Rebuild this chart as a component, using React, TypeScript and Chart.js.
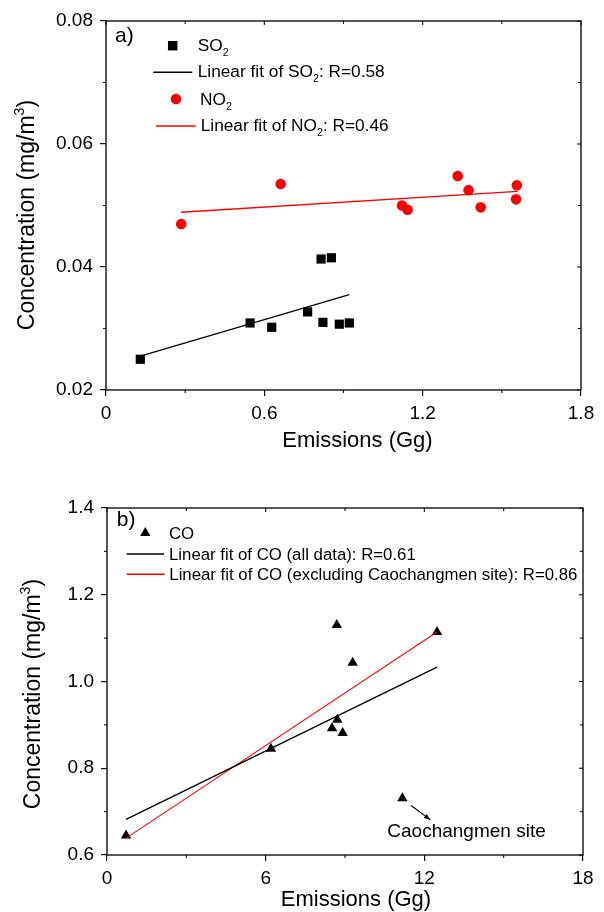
import React, { useEffect, useRef } from "react";
import { Chart, registerables } from "chart.js";

Chart.register(...registerables);

const FONT = "'Liberation Sans', Arial, Helvetica, sans-serif";

// ---------- Panel a) ----------
const so2Emissions = [0.13, 0.546, 0.628, 0.764, 0.815, 0.854, 0.822, 0.884, 0.922];
const so2Conc = [0.025, 0.0309, 0.0302, 0.0327, 0.0413, 0.0415, 0.031, 0.0307, 0.0309];
const so2FitX = [0.13, 0.922];
const so2FitY = [0.0255, 0.0355];
const no2Emissions = [0.285, 0.662, 1.122, 1.143, 1.333, 1.374, 1.42, 1.557, 1.554];
const no2Conc = [0.047, 0.0535, 0.05, 0.0493, 0.0548, 0.0525, 0.0497, 0.0533, 0.051];
const no2FitX = [0.285, 1.56];
const no2FitY = [0.0489, 0.0523];
const xTicksA = [0, 0.6, 1.2, 1.8];
const xTickLabelsA = ["0", "0.6", "1.2", "1.8"];
const xMinorA = [0.3, 0.9, 1.5];
const yTicksA = [0.02, 0.04, 0.06, 0.08];
const yTickLabelsA = ["0.02", "0.04", "0.06", "0.08"];
const yMinorA = [0.03, 0.05, 0.07];

// ---------- Panel b) ----------
const coEmissions = [0.72, 6.2, 8.69, 12.48, 9.29, 8.71, 8.51, 8.91, 11.17];
const coConc = [0.645, 0.845, 1.13, 1.114, 1.043, 0.912, 0.892, 0.881, 0.731];
const coFitAllX = [0.72, 12.48];
const coFitAllY = [0.682, 1.033];
const coFitExclX = [0.72, 12.48];
const coFitExclY = [0.639, 1.114];
const xTicksB = [0, 6, 12, 18];
const xTickLabelsB = ["0", "6", "12", "18"];
const xMinorB = [3, 9, 15];
const yTicksB = [0.6, 0.8, 1.0, 1.2, 1.4];
const yTickLabelsB = ["0.6", "0.8", "1.0", "1.2", "1.4"];
const yMinorB = [0.7, 0.9, 1.1, 1.3];
const outlierLabel = "Caochangmen site";
const outlierLabelPos = [10.6, 0.641];
const arrowFrom = [11.5, 0.714];
const arrowTo = [12.23, 0.681];

type Seg = { t: string; sub?: boolean; sup?: boolean };

function richWidth(ctx: CanvasRenderingContext2D, segs: Seg[], size: number) {
  let w = 0;
  for (const s of segs) {
    const fs = s.sub || s.sup ? size * 0.62 : size;
    ctx.font = `${fs}px ${FONT}`;
    w += ctx.measureText(s.t).width;
  }
  return w;
}

function drawRich(ctx: CanvasRenderingContext2D, x: number, y: number, segs: Seg[], size: number) {
  let cx = x;
  ctx.textBaseline = "alphabetic";
  ctx.textAlign = "left";
  for (const s of segs) {
    const fs = s.sub || s.sup ? size * 0.62 : size;
    ctx.font = `${fs}px ${FONT}`;
    const dy = s.sub ? size * 0.3 : s.sup ? -size * 0.42 : 0;
    ctx.fillText(s.t, cx, y + dy);
    cx += ctx.measureText(s.t).width;
  }
}

function line(ctx: CanvasRenderingContext2D, x1: number, y1: number, x2: number, y2: number) {
  ctx.beginPath();
  ctx.moveTo(x1, y1);
  ctx.lineTo(x2, y2);
  ctx.stroke();
}

type LegendItem =
  | { kind: "rect" | "circle" | "triangle"; color: string; mx: number; my: number; size: number; tx: number; ty: number; segs: Seg[] }
  | { kind: "line"; color: string; x1: number; x2: number; ly: number; tx: number; ty: number; segs: Seg[] };

type Decor = {
  xMinor: number[];
  yMinor: number[];
  xMajor: number[];
  yMajor: number[];
  panel: { text: string; x: number; y: number };
  legend: LegendItem[];
  legendSize: number;
  xTitle: { x: number; y: number };
  yTitle: { x: number; cy: number };
  extra?: (chart: Chart, ctx: CanvasRenderingContext2D) => void;
};

function decorPlugin(d: Decor) {
  return {
    id: "decor",
    afterDraw(chart: Chart) {
      const ctx = chart.ctx;
      const { left, right, top, bottom } = chart.chartArea;
      const xs = chart.scales.x;
      const ys = chart.scales.y;
      ctx.save();
      ctx.strokeStyle = "#111";
      ctx.fillStyle = "#000";
      ctx.lineWidth = 1.4;
      ctx.strokeRect(left, top, right - left, bottom - top);
      ctx.lineWidth = 1.1;
      for (const v of d.xMinor) {
        const p = xs.getPixelForValue(v);
        line(ctx, p, bottom, p, bottom + 3);
        line(ctx, p, top, p, top + 3);
      }
      for (const v of d.xMajor) {
        const p = xs.getPixelForValue(v);
        line(ctx, p, top, p, top + 4);
      }
      for (const v of d.yMinor) {
        const p = ys.getPixelForValue(v);
        line(ctx, left, p, left - 3, p);
        line(ctx, right, p, right - 3, p);
      }
      for (const v of d.yMajor) {
        const p = ys.getPixelForValue(v);
        line(ctx, right, p, right - 4, p);
      }

      // panel label
      ctx.font = `21px ${FONT}`;
      ctx.textAlign = "left";
      ctx.textBaseline = "alphabetic";
      ctx.fillText(d.panel.text, d.panel.x, d.panel.y);

      // legend
      for (const it of d.legend) {
        if (it.kind === "line") {
          ctx.strokeStyle = it.color;
          ctx.lineWidth = 1.4;
          line(ctx, it.x1, it.ly, it.x2, it.ly);
        } else {
          ctx.fillStyle = it.color;
          ctx.beginPath();
          if (it.kind === "rect") {
            ctx.rect(it.mx - it.size / 2, it.my - it.size / 2, it.size, it.size);
          } else if (it.kind === "circle") {
            ctx.arc(it.mx, it.my, it.size / 2, 0, Math.PI * 2);
          } else {
            const r = it.size;
            ctx.moveTo(it.mx, it.my - r);
            ctx.lineTo(it.mx + r * Math.sin((2 * Math.PI) / 3), it.my - r * Math.cos((2 * Math.PI) / 3));
            ctx.lineTo(it.mx + r * Math.sin((4 * Math.PI) / 3), it.my - r * Math.cos((4 * Math.PI) / 3));
            ctx.closePath();
          }
          ctx.fill();
        }
        ctx.fillStyle = "#000";
        drawRich(ctx, it.tx, it.ty, it.segs, d.legendSize);
      }

      // x title
      ctx.font = `22px ${FONT}`;
      ctx.textAlign = "center";
      ctx.textBaseline = "alphabetic";
      ctx.fillText("Emissions (Gg)", d.xTitle.x, d.xTitle.y);

      // y title (rotated)
      const ySegs: Seg[] = [{ t: "Concentration (mg/m" }, { t: "3", sup: true }, { t: ")" }];
      const w = richWidth(ctx, ySegs, 23);
      ctx.save();
      ctx.translate(d.yTitle.x, d.yTitle.cy + w / 2);
      ctx.rotate(-Math.PI / 2);
      drawRich(ctx, 0, 0, ySegs, 23);
      ctx.restore();

      if (d.extra) d.extra(chart, ctx);
      ctx.restore();
    },
  };
}

function axes(
  xMin: number, xMax: number, xTicks: number[], xLabels: string[],
  yMin: number, yMax: number, yTicks: number[], yLabels: string[],
  yWidth: number, xHeight: number
) {
  const tickFont = { family: FONT, size: 19 };
  return {
    x: {
      type: "linear" as const,
      min: xMin,
      max: xMax,
      afterBuildTicks: (s: any) => {
        s.ticks = xTicks.map((v) => ({ value: v }));
      },
      afterFit: (s: any) => {
        s.height = xHeight;
      },
      ticks: {
        callback: (_v: any, i: number) => xLabels[i],
        font: tickFont,
        color: "#000",
        padding: 6,
        maxRotation: 0,
        autoSkip: false,
      },
      grid: { drawOnChartArea: false, tickLength: 6, color: "#111", lineWidth: 1.2 },
      border: { display: false },
    },
    y: {
      type: "linear" as const,
      min: yMin,
      max: yMax,
      afterBuildTicks: (s: any) => {
        s.ticks = yTicks.map((v) => ({ value: v }));
      },
      afterFit: (s: any) => {
        s.width = yWidth;
      },
      ticks: {
        callback: (_v: any, i: number) => yLabels[i],
        font: tickFont,
        color: "#000",
        padding: 7,
        autoSkip: false,
      },
      grid: { drawOnChartArea: false, tickLength: 6, color: "#111", lineWidth: 1.2 },
      border: { display: false },
    },
  };
}

const zip = (xs: number[], ys: number[]) => xs.map((x, i) => ({ x, y: ys[i] }));

function makeConfigA(): any {
  const decor: Decor = {
    xMinor: xMinorA,
    yMinor: yMinorA,
    xMajor: xTicksA,
    yMajor: yTicksA,
    panel: { text: "a)", x: 115, y: 41.5 },
    legendSize: 17.3,
    legend: [
      { kind: "rect", color: "#000", mx: 172.7, my: 45.7, size: 9.5, tx: 197.7, ty: 50.7, segs: [{ t: "SO" }, { t: "2", sub: true }] },
      { kind: "line", color: "#000", x1: 153.3, x2: 192.3, ly: 72.3, tx: 197.7, ty: 77.3, segs: [{ t: "Linear fit of SO" }, { t: "2", sub: true }, { t: ": R=0.58" }] },
      { kind: "circle", color: "#ff0000", mx: 176, my: 99, size: 10.5, tx: 200, ty: 105, segs: [{ t: "NO" }, { t: "2", sub: true }] },
      { kind: "line", color: "#ff0000", x1: 156, x2: 195.7, ly: 126, tx: 200.7, ty: 131, segs: [{ t: "Linear fit of NO" }, { t: "2", sub: true }, { t: ": R=0.46" }] },
    ],
    xTitle: { x: 357.5, y: 447.3 },
    yTitle: { x: 34, cy: 215 },
  };
  return {
    type: "scatter",
    data: {
      datasets: [
        { label: "Linear fit of SO2", type: "line", data: zip(so2FitX, so2FitY), borderColor: "#000", borderWidth: 1.4, pointRadius: 0, fill: false },
        { label: "Linear fit of NO2", type: "line", data: zip(no2FitX, no2FitY), borderColor: "#ff0000", borderWidth: 1.4, pointRadius: 0, fill: false },
        { label: "SO2", data: zip(so2Emissions, so2Conc), pointStyle: "rect", pointRadius: 6.5, backgroundColor: "#000", borderWidth: 0 },
        { label: "NO2", data: zip(no2Emissions, no2Conc), pointStyle: "circle", pointRadius: 5.3, backgroundColor: "#ff0000", borderWidth: 0 },
      ],
    },
    options: {
      responsive: false,
      animation: false,
      devicePixelRatio: 1,
      layout: { padding: { left: 0, right: 23, top: 21, bottom: 0 } },
      plugins: { legend: { display: false }, tooltip: { enabled: false } },
      scales: axes(0, 1.8, xTicksA, xTickLabelsA, 0.02, 0.08, yTicksA, yTickLabelsA, 106, 66),
    },
    plugins: [decorPlugin(decor)],
  };
}

function makeConfigB(): any {
  const decor: Decor = {
    xMinor: xMinorB,
    yMinor: yMinorB,
    xMajor: xTicksB,
    yMajor: yTicksB,
    panel: { text: "b)", x: 116.7, y: 70 },
    legendSize: 16.8,
    legend: [
      { kind: "triangle", color: "#000", mx: 145.3, my: 77, size: 6, tx: 169, ty: 83.3, segs: [{ t: "CO" }] },
      { kind: "line", color: "#000", x1: 126.7, x2: 164, ly: 98, tx: 169, ty: 104, segs: [{ t: "Linear fit of CO (all data): R=0.61" }] },
      { kind: "line", color: "#ff0000", x1: 126.7, x2: 164.7, ly: 118.3, tx: 169.3, ty: 124, segs: [{ t: "Linear fit of CO (excluding Caochangmen site): R=0.86" }] },
    ],
    xTitle: { x: 356, y: 450 },
    yTitle: { x: 39.5, cy: 238 },
    extra: (chart, ctx) => {
      const xs = chart.scales.x;
      const ys = chart.scales.y;
      ctx.fillStyle = "#000";
      ctx.font = `19px ${FONT}`;
      ctx.textAlign = "left";
      ctx.textBaseline = "alphabetic";
      ctx.fillText(outlierLabel, xs.getPixelForValue(outlierLabelPos[0]), ys.getPixelForValue(outlierLabelPos[1]));
      const x1 = xs.getPixelForValue(arrowFrom[0]);
      const y1 = ys.getPixelForValue(arrowFrom[1]);
      const x2 = xs.getPixelForValue(arrowTo[0]);
      const y2 = ys.getPixelForValue(arrowTo[1]);
      ctx.strokeStyle = "#000";
      ctx.lineWidth = 1.1;
      line(ctx, x1, y1, x2, y2);
      const ang = Math.atan2(y2 - y1, x2 - x1);
      const hl = 7;
      ctx.beginPath();
      ctx.moveTo(x2, y2);
      ctx.lineTo(x2 - hl * Math.cos(ang - 0.35), y2 - hl * Math.sin(ang - 0.35));
      ctx.lineTo(x2 - hl * Math.cos(ang + 0.35), y2 - hl * Math.sin(ang + 0.35));
      ctx.closePath();
      ctx.fill();
    },
  };
  return {
    type: "scatter",
    data: {
      datasets: [
        { label: "Linear fit of CO (all data)", type: "line", data: zip(coFitAllX, coFitAllY), borderColor: "#000", borderWidth: 1.3, pointRadius: 0, fill: false },
        { label: "Linear fit of CO (excluding Caochangmen site)", type: "line", data: zip(coFitExclX, coFitExclY), borderColor: "#ff0000", borderWidth: 1.1, pointRadius: 0, fill: false },
        { label: "CO", data: zip(coEmissions, coConc), pointStyle: "triangle", pointRadius: 6, backgroundColor: "#000", borderWidth: 0 },
      ],
    },
    options: {
      responsive: false,
      animation: false,
      devicePixelRatio: 1,
      layout: { padding: { left: 0, right: 21, top: 52, bottom: 0 } },
      plugins: { legend: { display: false }, tooltip: { enabled: false } },
      scales: axes(0, 18, xTicksB, xTickLabelsB, 0.6, 1.4, yTicksB, yTickLabelsB, 107, 57),
    },
    plugins: [decorPlugin(decor)],
  };
}

function Panel({ top, height, make }: { top: number; height: number; make: () => any }) {
  const ref = useRef<HTMLCanvasElement>(null);
  useEffect(() => {
    const chart = new Chart(ref.current as HTMLCanvasElement, make());
    return () => chart.destroy();
  }, [make]);
  return (
    <div style={{ position: "absolute", left: 0, top, width: 604, height }}>
      <canvas ref={ref} width={604} height={height} style={{ width: 604, height, display: "block" }} />
    </div>
  );
}

export default function App() {
  return (
    <div style={{ position: "absolute", left: 0, top: 0, width: 604, height: 912, background: "#fff" }}>
      <Panel top={0} height={456} make={makeConfigA} />
      <Panel top={456} height={456} make={makeConfigB} />
    </div>
  );
}
